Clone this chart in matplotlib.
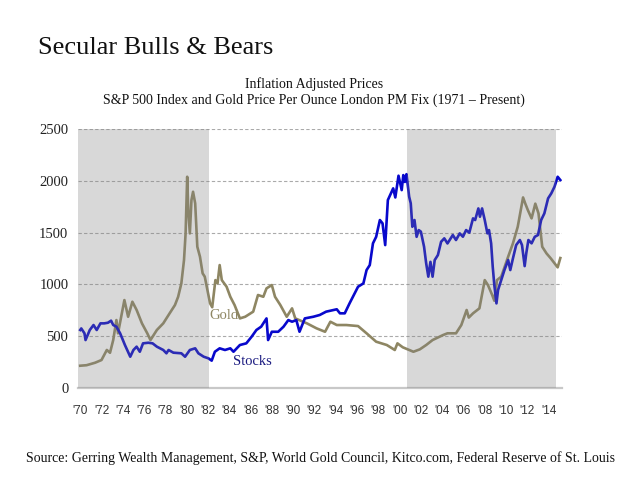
import matplotlib
matplotlib.use("Agg")
import matplotlib.pyplot as plt

gold_years = [1970.0, 1970.6, 1971.4, 1972.0, 1972.5, 1972.8, 1973.1, 1973.4, 1973.55, 1974.15,
              1974.5, 1974.9, 1975.3, 1975.8, 1976.3, 1976.6, 1977.2, 1977.8, 1978.4, 1978.9,
              1979.2, 1979.5, 1979.75, 1979.9, 1980.05, 1980.15, 1980.3, 1980.45, 1980.6, 1980.8,
              1981.0, 1981.25, 1981.5, 1981.7, 1981.95, 1982.2, 1982.4, 1982.7, 1982.9, 1983.1,
              1983.3, 1983.75, 1984.1, 1984.5, 1985.0, 1985.5, 1986.25, 1986.7, 1987.2, 1987.5,
              1988.0, 1988.3, 1988.8, 1989.4, 1989.9, 1990.2, 1991.3, 1992.2, 1993.0, 1993.5,
              1994.1, 1995.0, 1996.1, 1996.9, 1997.8, 1998.8, 1999.55, 1999.8, 2000.3, 2001.3,
              2001.9, 2002.5, 2003.1, 2004.1, 2004.5, 2005.3, 2005.8, 2006.3, 2006.5, 2006.9,
              2007.5, 2008.0, 2008.3, 2008.7, 2008.9, 2009.15, 2009.55, 2010.2, 2010.65, 2011.1,
              2011.6, 2011.8, 2012.05, 2012.4, 2012.75, 2013.05, 2013.4, 2013.8, 2014.2, 2014.85,
              2015.1]
gold_values = [215, 220, 244, 270, 367, 340, 463, 656, 528, 849,
               688, 833, 753, 624, 528, 463, 560, 624, 721, 801,
               881, 1010, 1235, 1493, 2040, 1718, 1493, 1815, 1895, 1783,
               1364, 1268, 1107, 1075, 946, 817, 780, 1042, 1010, 1187,
               1042, 978, 881, 801, 672, 688, 737, 898, 881, 962,
               994, 881, 801, 688, 769, 672, 624, 576, 543, 640,
               608, 608, 598, 528, 447, 415, 367, 431, 393, 350,
               373, 415, 463, 512, 528, 528, 608, 753, 680, 721,
               769, 1042, 994, 898, 843, 1042, 1075, 1268, 1397, 1557,
               1840, 1783, 1718, 1638, 1780, 1686, 1364, 1300, 1252, 1165,
               1255]

stock_years = [1970.0, 1970.1, 1970.4, 1970.5, 1970.9, 1971.25, 1971.55, 1971.9, 1972.25, 1972.6,
               1972.9, 1973.1, 1973.4, 1973.75, 1974.2, 1974.7, 1975.0, 1975.3, 1975.6, 1975.9,
               1976.4, 1976.8, 1977.2, 1977.8, 1978.1, 1978.3, 1978.75, 1979.5, 1979.85, 1980.3,
               1980.8, 1981.1, 1981.6, 1982.05, 1982.35, 1982.65, 1983.1, 1983.6, 1984.1, 1984.4,
               1985.0, 1985.6, 1986.1, 1986.55, 1987.0, 1987.5, 1987.65, 1988.0, 1988.6, 1989.1,
               1989.55, 1989.9, 1990.3, 1990.6, 1991.1, 1991.9, 1992.5, 1993.1, 1994.1, 1994.4,
               1994.85, 1995.3, 1996.1, 1996.6, 1996.9, 1997.2, 1997.5, 1997.8, 1998.15, 1998.4,
               1998.65, 1998.9, 1999.4, 1999.6, 1999.9, 2000.2, 2000.35, 2000.5, 2000.65, 2000.9,
               2001.05, 2001.2, 2001.4, 2001.6, 2001.8, 2002.0, 2002.3, 2002.5, 2002.7, 2002.9,
               2003.1, 2003.3, 2003.6, 2003.9, 2004.2, 2004.5, 2005.0, 2005.3, 2005.65, 2005.95,
               2006.25, 2006.55, 2006.9, 2007.1, 2007.4, 2007.55, 2007.75, 2008.0, 2008.25, 2008.4,
               2008.6, 2008.75, 2008.9, 2009.1, 2009.25, 2009.55, 2009.85, 2010.2, 2010.4, 2010.65,
               2010.95, 2011.3, 2011.5, 2011.75, 2011.9, 2012.1, 2012.4, 2012.7, 2013.0, 2013.3,
               2013.6, 2013.95, 2014.25, 2014.55, 2014.85, 2015.1]
stock_values = [560, 575, 528, 463, 560, 608, 560, 624, 624, 630,
                650, 608, 592, 528, 415, 302, 367, 399, 350, 431,
                437, 431, 399, 367, 335, 367, 341, 335, 302, 367,
                383, 335, 302, 286, 264, 350, 383, 367, 383, 350,
                415, 431, 495, 560, 592, 672, 463, 543, 543, 592,
                656, 640, 656, 543, 672, 688, 705, 737, 760, 721,
                721, 817, 978, 1010, 1139, 1187, 1397, 1460, 1622, 1590,
                1380, 1815, 1928, 1840, 2050, 1911, 2056, 1990, 2065, 1847,
                1783, 1557, 1622, 1460, 1525, 1510, 1364, 1203, 1075, 1218,
                1075, 1235, 1284, 1412, 1445, 1396, 1477, 1429, 1493, 1461,
                1525, 1500, 1638, 1622, 1734, 1654, 1734, 1622, 1493, 1525,
                1397, 1171, 994, 817, 946, 1042, 1139, 1235, 1139, 1252,
                1380, 1429, 1380, 1177, 1300, 1429, 1397, 1460, 1477, 1622,
                1686, 1831, 1879, 1943, 2040, 2008]

bear_periods = [(1969.8, 1982.1), (2000.7, 2014.7)]
x_tick_years = list(range(1970, 2015, 2))
x_tick_labels = ["'%02d" % (y % 100) for y in x_tick_years]
y_ticks = [0, 500, 1000, 1500, 2000, 2500]

serif = ['Liberation Serif', 'DejaVu Serif']
sans = ['Liberation Sans', 'DejaVu Sans']

fig = plt.figure(figsize=(6.4, 4.8), dpi=100)
ax = fig.add_axes([0.122, 0.1917, 0.756, 0.5393])

blue = '#0808CC'
gold = '#8E8663'
ax.plot(gold_years, gold_values, color=gold, lw=1.9, zorder=2, solid_joinstyle='round')
ax.plot(stock_years, stock_values, color=blue, lw=1.9, zorder=2.5, solid_joinstyle='round')
for a, b in bear_periods:
    ax.axvspan(a, b, ymin=0, ymax=1, facecolor='#808080', alpha=0.3, lw=0, zorder=3)

ax.set_xlim(1969.8, 2015.25)
ax.set_ylim(0, 2500)
for v in y_ticks[1:]:
    ax.axhline(v, color='#AAAAAA', lw=0.8, ls=(0, (3, 2)), zorder=1)
for s in ['top', 'right', 'left']:
    ax.spines[s].set_visible(False)
ax.spines['bottom'].set_color('#C8C8C8')
ax.spines['bottom'].set_linewidth(1.6)

ax.set_xticks(x_tick_years)
ax.set_xticklabels(x_tick_labels, family=sans, fontsize=8.5, color='#333333')
ax.set_yticks(y_ticks)
ax.set_yticklabels([str(v) for v in y_ticks], family=serif, fontsize=10.5, color='#222222')
ax.tick_params(axis='both', length=0)
ax.tick_params(axis='x', pad=12)
ax.tick_params(axis='y', pad=7)

ax.text(1982.15, 700, 'Gold', family=serif, fontsize=10.5, color=gold, zorder=4, va='center')
ax.text(1984.35, 255, 'Stocks', family=serif, fontsize=10.5, color='#1A1A80', zorder=4, va='center')

fig.text(0.059, 0.9, 'Secular Bulls & Bears', family=serif, fontsize=19, color='#111111', va='center')
fig.text(0.49, 0.824, 'Inflation Adjusted Prices', family=serif, fontsize=10, color='#111111', ha='center', va='center')
fig.text(0.49, 0.791, 'S&P 500 Index and Gold Price Per Ounce London PM Fix (1971 \u2013 Present)',
         family=serif, fontsize=10, color='#111111', ha='center', va='center')
fig.text(0.5, 0.045, 'Source: Gerring Wealth Management, S&P, World Gold Council, Kitco.com, Federal Reserve of St. Louis',
         family=serif, fontsize=10, color='#111111', ha='center', va='center')

fig.savefig('out.png', dpi=100, facecolor='white')
